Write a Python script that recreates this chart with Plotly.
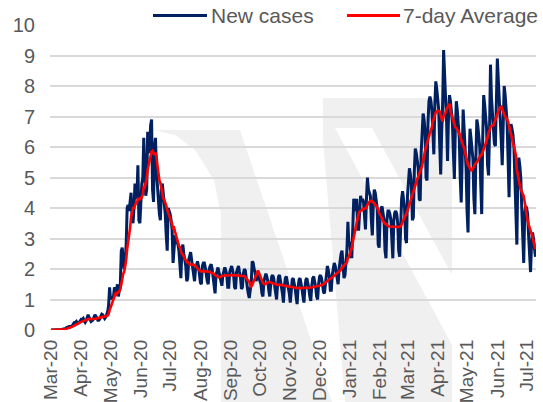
import pandas as pd
import plotly.graph_objects as go

# ---- data ----
start_date = "2020-03-01"

# daily new cases, one row per week (Sun..Sat)
new_cases = [
    0, 0, 0, 0, 0, 0, 0.01,
    0.01, 0.01, 0.02, 0.02, 0.02, 0.03, 0.03,
    0.04, 0.05, 0.08, 0.1, 0.1, 0.12, 0.1,
    0.12, 0.15, 0.2, 0.25, 0.25, 0.28, 0.22,
    0.22, 0.25, 0.3, 0.35, 0.35, 0.38, 0.3,
    0.25, 0.3, 0.4, 0.5, 0.42, 0.33, 0.28,
    0.3, 0.33, 0.42, 0.5, 0.45, 0.38, 0.32,
    0.32, 0.36, 0.45, 0.52, 0.5, 0.42, 0.38,
    0.42, 0.5, 0.6, 0.8, 1.4, 1.0, 1.1,
    1.0, 1.1, 1.4, 1.3, 1.2, 1.5, 1.1,
    1.3, 1.5, 2.6, 2.7, 2.2, 2.0, 2.3,
    2.8, 4.0, 4.1, 3.9, 4.3, 4.5, 3.7,
    3.5, 4.0, 4.8, 4.3, 4.4, 5.4, 3.6,
    3.5, 4.4, 4.8, 5.0, 6.3, 5.2, 4.4,
    4.6, 6.5, 5.8, 6.0, 6.7, 6.9, 4.6,
    4.2, 6.0, 6.3, 5.2, 4.6, 4.3, 3.8,
    3.6, 4.6, 4.8, 4.5, 4.2, 3.8, 3.1,
    2.6, 4.0, 3.9, 3.8, 3.6, 3.3, 2.2,
    2.7, 3.1, 3.0, 2.9, 2.8, 2.6, 1.9,
    1.7, 2.6, 2.8, 2.5, 2.3, 2.1, 1.6,
    1.7, 2.3, 2.5, 2.55, 2.3, 2.0, 1.7,
    1.6, 2.0, 2.2, 2.25, 2.1, 1.8, 1.55,
    1.5, 2.1, 2.2, 2.2, 2.05, 1.8, 1.6,
    1.5, 2.0, 2.1, 2.15, 2.0, 1.75, 1.4,
    1.2, 1.8, 2.0, 2.05, 1.9, 1.75, 1.5,
    1.45, 1.8, 2.0, 2.05, 1.95, 1.8, 1.4,
    1.4, 1.9, 2.05, 2.1, 1.95, 1.8, 1.4,
    1.35, 1.9, 2.05, 2.1, 1.9, 1.75, 1.35,
    1.4, 1.85, 2.0, 1.95, 1.6, 1.4, 1.2,
    1.05, 1.3, 1.5, 2.25, 2.2, 2.0, 1.9,
    1.6, 1.8, 1.9, 1.7, 1.6, 1.5, 1.2,
    1.1, 1.6, 1.8, 1.85, 1.75, 1.6, 1.3,
    1.1, 1.5, 1.75, 1.8, 1.7, 1.45, 1.2,
    1.0, 1.5, 1.75, 1.8, 1.65, 1.4, 1.2,
    0.9, 1.45, 1.7, 1.75, 1.6, 1.35, 1.2,
    0.9, 1.4, 1.65, 1.7, 1.55, 1.35, 1.1,
    0.85, 1.4, 1.65, 1.7, 1.55, 1.35, 1.1,
    0.9, 1.4, 1.65, 1.7, 1.55, 1.35, 1.1,
    0.95, 1.45, 1.7, 1.75, 1.6, 1.4, 1.1,
    1.0, 1.5, 1.75, 1.8, 1.7, 1.5, 1.25,
    1.2, 1.6, 1.9, 2.1, 1.95, 1.75, 1.3,
    1.3, 1.8, 2.1, 2.2, 2.1, 1.9, 1.55,
    1.5, 2.0, 2.3, 2.5, 2.6, 2.1, 1.7,
    1.8, 2.2, 2.6, 3.55, 2.8, 2.9, 2.4,
    2.4, 3.5, 4.3, 4.1, 3.9, 4.3, 3.3,
    3.3, 4.0, 4.4, 4.2, 4.3, 4.2, 3.5,
    3.3, 4.3, 5.0, 4.6, 4.5, 4.4, 3.6,
    3.1, 4.1, 4.6, 4.5, 4.2, 4.0, 2.8,
    2.7, 3.7, 4.0, 4.05, 3.8, 3.6, 2.6,
    2.35, 3.6, 3.9, 3.9, 3.8, 3.6, 2.7,
    2.35, 3.6, 3.85, 3.9, 3.8, 3.5, 2.6,
    2.4, 3.7, 4.3, 4.55, 4.3, 4.0, 3.0,
    2.85, 4.4, 5.0, 5.3, 5.1, 4.8, 3.6,
    3.7, 5.2, 5.95, 5.8, 5.6, 5.3, 4.3,
    4.24, 5.8, 6.6, 7.1, 6.9, 6.5, 5.0,
    4.9, 6.8, 7.5, 7.65, 7.5, 7.2, 6.3,
    5.76, 7.4, 8.15, 7.9, 7.6, 7.2, 6.1,
    5.1, 6.5, 7.4, 9.18, 8.0, 7.6, 6.9,
    5.54, 7.0, 7.7, 7.5, 7.2, 6.8, 5.8,
    4.95, 6.6, 7.5, 7.2, 6.8, 6.3, 5.0,
    4.18, 5.6, 7.23, 6.6, 6.0, 5.3, 3.9,
    3.2, 5.4, 6.6, 6.3, 6.0, 5.6, 4.3,
    3.8, 5.6, 6.9, 6.7, 6.4, 6.0, 4.8,
    3.8, 6.2, 7.7, 7.4, 7.0, 6.6, 5.4,
    5.07, 6.5, 8.7, 7.6, 7.0, 6.7, 6.1,
    6.03, 7.2, 8.9, 8.2, 7.6, 7.1, 6.2,
    5.4, 7.0, 8.0, 7.7, 7.3, 6.8, 5.6,
    4.35, 6.2, 6.75, 6.6, 6.4, 6.0, 4.6,
    3.6, 2.8, 5.2, 5.65, 5.4, 5.0, 4.0,
    3.3, 2.2, 3.8, 4.06, 4.0, 3.8, 3.1,
    2.6, 1.9, 2.8, 3.2, 3.0, 2.7, 2.4,
]

series_names = ["New cases", "7-day Average"]
y_ticks = [0, 1, 2, 3, 4, 5, 6, 7, 8, 9, 10]

dates = pd.date_range(start_date, periods=len(new_cases), freq="D")
avg7 = pd.Series(new_cases).rolling(7, min_periods=1).mean()

# ---- figure ----
W, H = 543, 402
L, R, T, B = 50, 7, 25, 72
PW, PH = W - L - R, H - T - B


def px(x):
    return (x - L) / PW


def py(y):
    return (H - B - y) / PH


TXT = "#595959"
FONT = "Liberation Sans, Arial, sans-serif"
NAVY = "#002060"
RED = "#FF0000"
WM = "#F1F0F1"

fig = go.Figure()
fig.add_trace(go.Scatter(x=dates, y=new_cases, mode="lines", name=series_names[0],
                         line=dict(color=NAVY, width=3), cliponaxis=False))
fig.add_trace(go.Scatter(x=dates, y=avg7, mode="lines", name=series_names[1],
                         line=dict(color=RED, width=2.6), cliponaxis=False))

shapes = []


def poly(pts, color=WM):
    d = "M " + " L ".join(f"{px(a):.4f},{py(b):.4f}" for a, b in pts) + " Z"
    return dict(type="path", path=d, xref="paper", yref="paper",
                fillcolor=color, line=dict(width=0), layer="below")


# faint background watermark
shapes.append(poly([(153, 130), (240, 130), (332, 402), (221, 402), (221, 215),
                    (214, 180), (195, 150), (175, 135)]))
shapes.append(poly([(323, 98), (452, 98), (452, 402), (345, 402), (323, 140)]))
shapes.append(poly([(335, 128), (372, 128), (452, 275), (452, 345)], color="white"))

# manual legend
leg_y = py(15.5)
for x0, x1, col, txt, tx in [(153, 207, NAVY, series_names[0], 209),
                              (347, 400, RED, series_names[1], 401)]:
    shapes.append(dict(type="line", xref="paper", yref="paper",
                       x0=px(x0), x1=px(x1), y0=leg_y, y1=leg_y,
                       line=dict(color=col, width=3)))
    fig.add_annotation(x=px(tx), y=leg_y, xref="paper", yref="paper",
                       text=txt, showarrow=False, xanchor="left", yanchor="middle",
                       font=dict(family=FONT, size=21, color=TXT))

fig.update_layout(
    width=W, height=H,
    margin=dict(l=L, r=R, t=T, b=B, pad=0, autoexpand=False),
    paper_bgcolor="white", plot_bgcolor="rgba(0,0,0,0)",
    showlegend=False,
    shapes=shapes,
    font=dict(family=FONT, color=TXT),
)
fig.update_xaxes(
    type="date", automargin=False,
    range=["2020-02-29 00:00", "2021-07-10 14:00"],
    tick0="2020-03-01", dtick="M1", tickformat="%b-%y",
    tickangle=-90, tickfont=dict(size=19, color=TXT),
    showgrid=False, zeroline=False, showline=False, ticks="",
    ticklabelstandoff=5,
)
fig.update_yaxes(
    range=[0, 10], tickvals=y_ticks, automargin=False,
    tickfont=dict(size=20, color=TXT),
    showgrid=True, gridcolor="#D9D9D9", gridwidth=1.5,
    zeroline=False, showline=False, ticks="",
    ticklabelstandoff=14,
)

fig.write_html(
    "out.html",
    config={"displayModeBar": False},
    post_script="document.body.style.margin='0px';document.body.style.overflow='hidden';",
)
